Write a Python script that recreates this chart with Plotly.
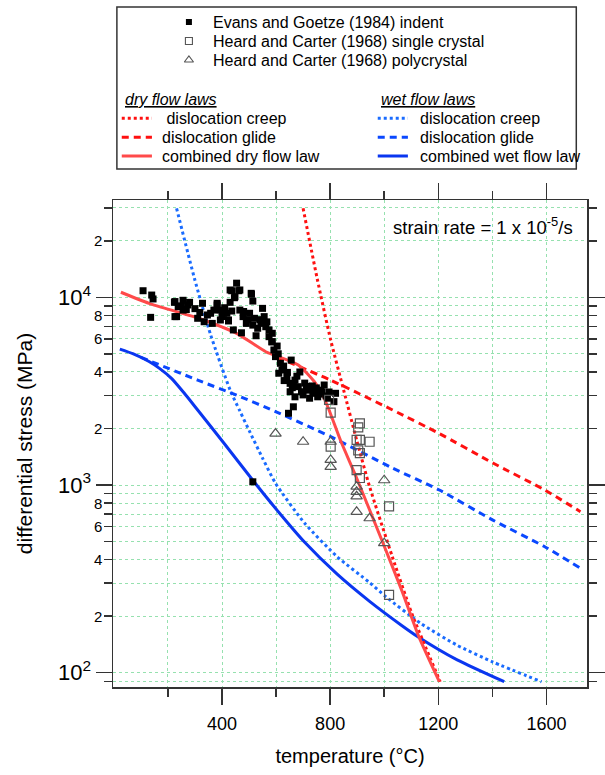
import math
import plotly.graph_objects as go

# ---------------- data ----------------
# Evans and Goetze (1984) indentation: temperature (C), stress (MPa)
eg_T = [108, 140, 145, 136, 224, 256, 280, 256, 226, 328, 310, 382, 358, 394, 418, 436,
        454, 436, 462, 446, 430, 424, 442, 466, 478, 509, 514, 502, 520, 490, 472, 526,
        550, 556, 544, 562, 574, 586, 584, 532, 514, 574, 586, 592, 598, 616, 610, 622,
        640, 652, 670, 682, 694, 700, 718, 736, 754, 766, 724, 670, 652, 664, 646, 664,
        820, 814, 778, 796, 628, 642, 677, 706, 734, 749, 770, 785, 688, 656, 430, 466,
        448, 508, 226, 238, 232, 274, 346, 334, 370, 382, 406, 424, 364, 394, 514,
        300, 318, 250, 268, 400, 410, 480, 496, 540, 566, 604, 608, 630, 660, 712, 742, 760, 790]
eg_S = [10840, 10280, 9800, 7820, 9400, 9640, 9400, 8550, 7890, 9290, 7730, 9100, 8220, 8550, 8220, 8450,
        11890, 10840, 10840, 9950, 9400, 7480, 6700, 8550, 7890, 10380, 9550, 8220, 7730, 7260, 6470, 6240,
        8730, 7890, 7260, 6970, 6700, 6430, 5790, 6840, 7110, 6170, 5800, 5240, 4830, 4450, 3940, 4100,
        3780, 3480, 3620, 3340, 3140, 3020, 3200, 3080, 2950, 3200, 2900, 2950, 3140, 2610, 2410, 3410,
        3080, 2780, 3410, 3130, 4300, 3980, 3800, 3490, 3370, 3290, 3130, 2980, 4000, 4630, 10940, 10940,
        10070, 10500, 9490, 8910, 7890, 9100, 8050, 7410, 8550, 9290, 8220, 7570, 7260, 7570, 1040,
        8700, 8300, 9000, 8600, 7900, 8800, 8400, 7600, 7600, 7400, 5500, 5000, 3600, 3300, 3350, 3150, 3050, 2900]

# Heard and Carter (1968) single crystal
hs_T = [796, 802, 910, 904, 910, 946, 898, 802, 904, 910, 898, 910, 1018, 1018]
hs_S = [2840, 2430, 2130, 2030, 1740, 1700, 1740, 1600, 1530, 1480, 1200, 1090, 770, 260]

# Heard and Carter (1968) polycrystal
hp_T = [598, 700, 802, 802, 802, 1000, 898, 898, 898, 898, 946, 1000]
hp_S = [1880, 1700, 1700, 1360, 1250, 1060, 980, 920, 870, 720, 665, 490]

# dry flow laws
dry_creep_T = [700, 752, 802, 850, 898, 946, 1030, 1102, 1207]
dry_creep_S = [29790, 12600, 5930, 3206, 1738, 979, 415, 207, 89.5]
dry_glide_T = [604, 802, 1031, 1204, 1402, 1594, 1726]
dry_glide_S = [4790, 3620, 2510, 1880, 1310, 940, 721]
dry_comb_T = [26, 130, 310, 454, 562, 682, 742, 772, 796, 839, 898, 994, 1066, 1127, 1204]
dry_comb_S = [10640, 9290, 7760, 6430, 5130, 4360, 3550, 3020, 2510, 1720, 1090, 497, 272, 157, 89.5]

# wet flow laws
wet_creep_T = [232, 298, 358, 430, 466, 502, 550, 598, 706, 826, 946, 1006, 1138, 1270, 1402, 1582]
wet_creep_S = [29790, 12620, 6310, 3206, 2480, 1930, 1390, 1021, 625, 415, 302, 254, 182, 140, 114, 89.5]
wet_glide_T = [100, 310, 454, 598, 802, 1031, 1204, 1402, 1594, 1726]
wet_glide_S = [4790, 3620, 3010, 2460, 1810, 1230, 940, 650, 469, 360]
wet_comb_T = [22, 70, 130, 170, 214, 260, 310, 406, 514, 610, 706, 826, 946, 1066, 1126, 1270, 1444]
wet_comb_S = [5300, 5010, 4550, 4170, 3690, 3090, 2510, 1680, 1060, 716, 495, 335, 240, 178, 155, 117, 89.5]

x_ticks = [400, 800, 1200, 1600]
x_minor = [200, 600, 1000, 1400]
y_major = [100, 1000, 10000]
y_major_text = ["10<sup>2</sup>", "10<sup>3</sup>", "10<sup>4</sup>"]
y_minor = [90, 200, 300, 400, 500, 600, 700, 800, 900,
           2000, 3000, 4000, 5000, 6000, 7000, 8000, 9000, 20000, 30000]
y_small_labels = [200, 400, 600, 800, 2000, 4000, 6000, 8000, 20000]
y_small_text = ["2", "4", "6", "8", "2", "4", "6", "8", "2"]

# ---------------- styles ----------------
RED = "#ff1010"
RED_SOLID = "#ff4a4a"
BLUE_DOT = "#1a6cff"
BLUE_DASH = "#0a48ff"
BLUE_SOLID = "#0a36f0"
GRID = "rgb(150,225,175)"
AX = "#333333"
FONT = "Liberation Sans, Arial, sans-serif"
DASH = "7px,5px"

fig = go.Figure()


def add_curve(T, S, color, dash):
    fig.add_trace(go.Scatter(x=T, y=S, mode="lines",
                             line=dict(color=color, dash=dash, width=3, shape="spline", smoothing=0.6),
                             showlegend=False, hoverinfo="skip"))


add_curve(wet_creep_T, wet_creep_S, BLUE_DOT, "dot")
add_curve(wet_glide_T, wet_glide_S, BLUE_DASH, DASH)
add_curve(wet_comb_T, wet_comb_S, BLUE_SOLID, "solid")
add_curve(dry_creep_T, dry_creep_S, RED, "dot")
add_curve(dry_glide_T, dry_glide_S, RED, DASH)
add_curve(dry_comb_T, dry_comb_S, RED_SOLID, "solid")

fig.add_trace(go.Scatter(x=eg_T, y=eg_S, mode="markers", showlegend=False,
                         marker=dict(symbol="square", size=7, color="black", line=dict(width=0))))
fig.add_trace(go.Scatter(x=hs_T, y=hs_S, mode="markers", showlegend=False,
                         marker=dict(symbol="square-open", size=9, color="#555555", line=dict(width=1.2))))
fig.add_trace(go.Scatter(x=hp_T, y=hp_S, mode="markers", showlegend=False,
                         marker=dict(symbol="triangle-up-open", size=10, color="#555555", line=dict(width=1.2))))

# ---------------- legend (drawn on a pixel-scaled helper axis) ----------------
leg_marker_x = 191
leg_text_x = 214
leg_rows = [22, 41, 60]
fig.add_trace(go.Scatter(x=[leg_marker_x], y=[leg_rows[0]], xaxis="x2", yaxis="y2", mode="markers",
                         showlegend=False, hoverinfo="skip",
                         marker=dict(symbol="square", size=6, color="black")))
fig.add_trace(go.Scatter(x=[leg_marker_x], y=[leg_rows[1]], xaxis="x2", yaxis="y2", mode="markers",
                         showlegend=False, hoverinfo="skip",
                         marker=dict(symbol="square-open", size=7, color="#555555", line=dict(width=1.1))))
fig.add_trace(go.Scatter(x=[leg_marker_x], y=[leg_rows[2]], xaxis="x2", yaxis="y2", mode="markers",
                         showlegend=False, hoverinfo="skip",
                         marker=dict(symbol="triangle-up-open", size=8, color="#555555", line=dict(width=1.1))))
leg_names = ["Evans and Goetze (1984) indent", "Heard and Carter (1968) single crystal",
             "Heard and Carter (1968) polycrystal"]

LEG_FONT = dict(size=16, color="black", family=FONT)
annotations = []
for r, name in zip(leg_rows, leg_names):
    annotations.append(dict(x=leg_text_x, y=r, xref="x2", yref="y2", text=name, showarrow=False,
                            xanchor="left", yanchor="middle", font=LEG_FONT))

line_rows = [118.3, 137.3, 156]
for x0, x1, tx, colors, dashes, names, head in [
    (122, 153, 161, [RED, RED, RED_SOLID], ["dot", DASH, "solid"],
     [" dislocation creep", "dislocation glide", "combined dry flow law"], "dry flow laws"),
    (385, 416, 426, [BLUE_DOT, BLUE_DASH, BLUE_SOLID], ["dot", DASH, "solid"],
     ["dislocation creep", "dislocation glide", "combined wet flow law"], "wet flow laws")]:
    annotations.append(dict(x=x0 + 1, y=99, xref="x2", yref="y2", text="<i><u>" + head + "</u></i>",
                            showarrow=False, xanchor="left", yanchor="middle", font=LEG_FONT))
    for r, c, d, n in zip(line_rows, colors, dashes, names):
        fig.add_trace(go.Scatter(x=[x0, x1], y=[r, r], xaxis="x2", yaxis="y2", mode="lines",
                                 showlegend=False, hoverinfo="skip",
                                 line=dict(color=c, dash=d, width=3)))
        annotations.append(dict(x=tx, y=r, xref="x2", yref="y2", text=n, showarrow=False,
                                xanchor="left", yanchor="middle", font=LEG_FONT))

# small y tick labels (2,4,6,8)
for v, t in zip(y_small_labels, y_small_text):
    annotations.append(dict(x=0, y=math.log10(v), xref="paper", yref="y", text=t, showarrow=False,
                            xanchor="right", yanchor="middle", xshift=-9,
                            font=dict(size=15, color="black", family=FONT)))

annotations.append(dict(x=1655, y=math.log10(24000), xref="x", yref="y",
                        text="strain rate = 1 x 10<sup>-5</sup>/s", showarrow=False,
                        xanchor="right", yanchor="middle", xshift=14,
                        font=dict(size=18.5, color="black", family=FONT)))

shapes = [dict(type="rect", xref="x2", yref="y2", x0=117, x1=589, y0=7, y1=169,
               line=dict(color="#333333", width=1.5), fillcolor="rgba(0,0,0,0)", layer="above")]

Y_DOM = 487.0 / 687.0

fig.update_layout(
    width=605, height=775,
    margin=dict(l=113, r=5, t=0, b=88, pad=0),
    paper_bgcolor="white", plot_bgcolor="white",
    font=dict(family=FONT, color="black"),
    showlegend=False,
    annotations=annotations,
    shapes=shapes,
    xaxis=dict(domain=[0, 1], range=[-3.2, 1750.2], anchor="y",
               tickmode="array", tickvals=x_ticks, ticks="outside", ticklen=16, tickwidth=1.5,
               tickcolor=AX, tickfont=dict(size=18, family=FONT, color="black"), ticklabelstandoff=4,
               showline=True, linecolor=AX, linewidth=1.5, mirror="ticks", zeroline=False,
               showgrid=True, gridcolor=GRID, griddash="dot", gridwidth=1,
               minor=dict(tickmode="array", tickvals=x_minor, ticks="outside", ticklen=8, tickwidth=1.5,
                          tickcolor=AX, showgrid=True, gridcolor=GRID, griddash="dot", gridwidth=1),
               title=dict(text="temperature (°C)", font=dict(size=20, family=FONT, color="black"), standoff=16)),
    yaxis=dict(domain=[0, Y_DOM], type="log", range=[1.9238, 4.5184], anchor="x",
               tickmode="array", tickvals=y_major, ticktext=y_major_text, ticks="outside", ticklen=16,
               tickwidth=1.5, tickcolor=AX, tickfont=dict(size=22, family=FONT, color="black"),
               showline=True, linecolor=AX, linewidth=1.5, mirror="ticks", zeroline=False,
               showgrid=True, gridcolor=GRID, griddash="dot", gridwidth=1,
               minor=dict(tickmode="array", tickvals=y_minor, ticks="outside", ticklen=8, tickwidth=1.5,
                          tickcolor=AX, showgrid=True, gridcolor=GRID, griddash="dot", gridwidth=1),
               title=dict(text="differential stress (MPa)", font=dict(size=21, family=FONT, color="black"),
                          standoff=19)),
    xaxis2=dict(domain=[0, 1], range=[113, 600], anchor="y2", visible=False, fixedrange=True),
    yaxis2=dict(domain=[0.72, 1], range=[687.0 * 0.28, 0], anchor="x2", visible=False, fixedrange=True),
)

fig.write_html("out.html", config={"displayModeBar": False, "staticPlot": True},
               post_script="document.body.style.margin='0px';")
